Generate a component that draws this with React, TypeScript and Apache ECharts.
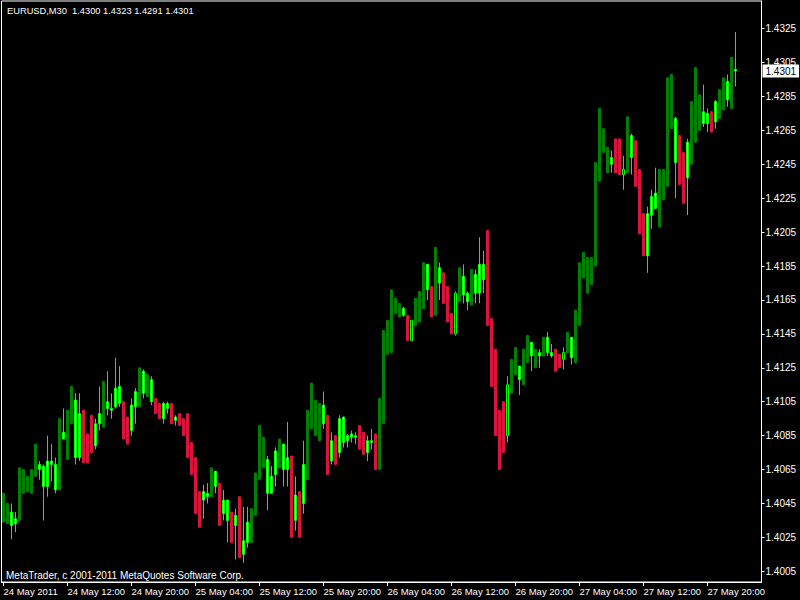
import React, { useEffect, useRef } from "react";
import * as echarts from "echarts";

// bar painting: G = green trend bar, R = red trend bar, C = plain candlestick
const paint = [
  "G","G","C","C","G","G","G","G","G","C",
  "C","C","C","C","G","C","G","G","C","C",
  "R","R","R","C","C","G","C","C","C","C",
  "R","R","C","C","G","C","G","C","R","R",
  "C","C","R","C","R","R","R","R","R","R",
  "C","C","G","C","R","C","C","R","C","R",
  "C","C","G","G","G","G","C","C","C","G",
  "C","C","R","C","R","C","G","G","G","G",
  "C","R","C","R","C","C","C","C","C","R",
  "R","C","C","R","G","G","G","G","G","G",
  "C","R","C","G","G","G","C","R","G","C",
  "R","R","R","C","G","C","C","G","C","C",
  "C","R","R","R","R","R","C","G","G","C",
  "G","G","C","G","C","G","C","C","R","R",
  "C","G","C","G","G","G","G","G","G","G",
  "G","G","C","R","R","C","G","C","R","R",
  "R","C","C","C","G","G","G","G","C","R",
  "R","C","G","G","G","C","C","R","C","G",
  "G","C","G","C",
];

const highs = [
  1.4051,1.4045,1.4045,1.4040,1.4066,1.4065,1.4061,1.4065,1.4080,1.4070,
  1.4068,1.4085,1.4080,1.4072,1.4095,1.4101,1.4100,1.4114,1.4110,1.4110,
  1.4100,1.4086,1.4097,1.4095,1.4114,1.4117,1.4123,1.4110,1.4131,1.4126,
  1.4105,1.4096,1.4107,1.4113,1.4125,1.4124,1.4121,1.4120,1.4107,1.4104,
  1.4105,1.4105,1.4104,1.4097,1.4098,1.4095,1.4098,1.4081,1.4072,1.4052,
  1.4056,1.4057,1.4066,1.4064,1.4057,1.4053,1.4047,1.4040,1.4042,1.4049,
  1.4043,1.4043,1.4042,1.4063,1.4091,1.4084,1.4073,1.4067,1.4078,1.4083,
  1.4080,1.4093,1.4073,1.4061,1.4052,1.4082,1.4100,1.4116,1.4106,1.4104,
  1.4111,1.4097,1.4087,1.4085,1.4097,1.4096,1.4086,1.4088,1.4087,1.4091,
  1.4087,1.4085,1.4089,1.4086,1.4107,1.4147,1.4153,1.4171,1.4166,1.4163,
  1.4161,1.4156,1.4153,1.4166,1.4170,1.4187,1.4186,1.4173,1.4196,1.4187,
  1.4181,1.4173,1.4157,1.4170,1.4184,1.4186,1.4170,1.4183,1.4183,1.4202,
  1.4194,1.4206,1.4154,1.4136,1.4100,1.4105,1.4120,1.4130,1.4137,1.4126,
  1.4136,1.4144,1.4140,1.4136,1.4136,1.4143,1.4146,1.4139,1.4136,1.4133,
  1.4137,1.4146,1.4143,1.4159,1.4187,1.4193,1.4190,1.4190,1.4246,1.4278,
  1.4266,1.4255,1.4253,1.4260,1.4260,1.4250,1.4273,1.4263,1.4259,1.4242,
  1.4216,1.4220,1.4230,1.4243,1.4242,1.4242,1.4296,1.4298,1.4273,1.4262,
  1.4252,1.4260,1.4282,1.4302,1.4286,1.4292,1.4278,1.4276,1.4283,1.4289,
  1.4296,1.4298,1.4308,1.4323,
];

const lows = [
  1.4034,1.4033,1.4024,1.4028,1.4035,1.4051,1.4052,1.4051,1.4061,1.4059,
  1.4035,1.4049,1.4058,1.4051,1.4053,1.4083,1.4071,1.4092,1.4068,1.4070,
  1.4069,1.4069,1.4075,1.4077,1.4088,1.4090,1.4097,1.4095,1.4101,1.4102,
  1.4083,1.4080,1.4085,1.4092,1.4102,1.4107,1.4108,1.4103,1.4098,1.4095,
  1.4092,1.4098,1.4092,1.4091,1.4091,1.4085,1.4072,1.4062,1.4039,1.4031,
  1.4036,1.4045,1.4049,1.4051,1.4032,1.4035,1.4022,1.4022,1.4012,1.4013,
  1.4010,1.4019,1.4022,1.4038,1.4059,1.4066,1.4041,1.4051,1.4055,1.4066,
  1.4055,1.4055,1.4025,1.4029,1.4025,1.4039,1.4059,1.4089,1.4085,1.4082,
  1.4089,1.4062,1.4068,1.4068,1.4072,1.4078,1.4078,1.4081,1.4080,1.4077,
  1.4074,1.4070,1.4077,1.4065,1.4065,1.4092,1.4133,1.4134,1.4157,1.4155,
  1.4155,1.4141,1.4141,1.4150,1.4152,1.4160,1.4165,1.4155,1.4156,1.4165,
  1.4163,1.4152,1.4145,1.4144,1.4164,1.4163,1.4159,1.4162,1.4163,1.4163,
  1.4169,1.4150,1.4114,1.4085,1.4065,1.4075,1.4081,1.4110,1.4121,1.4109,
  1.4115,1.4128,1.4123,1.4125,1.4125,1.4132,1.4132,1.4131,1.4123,1.4125,
  1.4124,1.4134,1.4127,1.4128,1.4150,1.4178,1.4169,1.4174,1.4185,1.4235,
  1.4252,1.4240,1.4240,1.4240,1.4239,1.4230,1.4240,1.4239,1.4232,1.4204,
  1.4191,1.4181,1.4207,1.4219,1.4208,1.4224,1.4232,1.4266,1.4225,1.4233,
  1.4222,1.4215,1.4245,1.4258,1.4265,1.4267,1.4264,1.4264,1.4266,1.4272,
  1.4277,1.4279,1.4278,1.4291,
];

const opens = [
  null,null,1.4032,1.4033,null,null,null,null,null,1.4065,
  1.4055,1.4055,1.4068,1.4053,null,1.4083,null,null,1.4072,1.4072,
  null,null,null,1.4079,1.4092,null,1.4101,1.4100,1.4102,1.4104,
  null,null,1.4088,1.4102,null,1.4110,null,1.4105,null,null,
  1.4095,1.4101,null,1.4094,null,null,null,null,null,null,
  1.4047,1.4049,null,1.4055,null,1.4039,1.4035,null,1.4032,null,
  1.4015,1.4022,null,null,null,null,1.4051,1.4051,1.4062,null,
  1.4065,1.4065,null,1.4035,null,1.4045,null,null,null,null,
  1.4092,null,1.4070,null,1.4075,1.4081,1.4082,1.4084,1.4084,null,
  null,1.4075,1.4081,null,null,null,null,null,null,null,
  1.4156,null,1.4153,null,null,null,1.4171,null,null,1.4175,
  null,null,null,1.4169,null,1.4168,1.4164,null,1.4169,1.4169,
  1.4177,null,null,null,null,null,1.4115,null,null,1.4118,
  null,null,1.4132,null,1.4132,null,1.4134,1.4132,null,null,
  1.4134,null,1.4131,null,null,null,null,null,null,null,
  null,null,1.4245,null,null,1.4242,null,1.4249,null,null,
  null,1.4191,1.4215,1.4219,null,null,null,null,1.4246,null,
  null,1.4237,null,null,null,1.4269,1.4269,null,1.4270,null,
  null,1.4283,null,1.4300,
];

const closes = [
  null,null,1.4040,1.4036,null,null,null,null,null,1.4068,
  1.4067,1.4070,1.4070,1.4068,null,1.4087,null,null,1.4106,1.4098,
  null,null,null,1.4092,1.4098,null,1.4105,1.4101,1.4113,1.4114,
  null,null,1.4103,1.4111,null,1.4123,null,1.4118,null,null,
  1.4104,1.4104,null,1.4096,null,null,null,null,null,null,
  1.4052,1.4051,null,1.4064,null,1.4047,1.4047,null,1.4038,null,
  1.4023,1.4034,null,null,null,null,1.4071,1.4061,1.4076,null,
  1.4080,1.4072,null,1.4050,null,1.4068,null,null,null,null,
  1.4103,null,1.4082,null,1.4095,1.4096,1.4085,1.4086,1.4085,null,
  null,1.4082,1.4082,null,null,null,null,null,null,null,
  1.4160,null,1.4141,null,null,null,1.4186,null,null,1.4184,
  null,null,null,1.4145,null,1.4179,1.4169,null,1.4180,1.4186,
  1.4186,null,null,null,null,null,1.4085,null,null,1.4126,
  null,null,1.4140,null,1.4134,null,1.4143,1.4134,null,null,
  1.4130,null,1.4143,null,null,null,null,null,null,null,
  null,null,1.4249,null,null,1.4239,null,1.4262,null,null,
  null,1.4216,1.4226,1.4228,null,null,null,null,1.4272,null,
  null,1.4258,null,null,null,1.4276,1.4275,null,1.4282,null,
  null,1.4294,null,1.4301,
];

const tickLabels = [
  "24 May 2011", "24 May 12:00", "24 May 20:00", "25 May 04:00",
  "25 May 12:00", "25 May 20:00", "26 May 04:00", "26 May 12:00",
  "26 May 20:00", "27 May 04:00", "27 May 12:00", "27 May 20:00",
];

const priceTicks = [
  1.4005, 1.4025, 1.4045, 1.4065, 1.4085, 1.4105, 1.4125, 1.4145, 1.4165,
  1.4185, 1.4205, 1.4225, 1.4245, 1.4265, 1.4285, 1.4305, 1.4325,
];

const titleText = "EURUSD,M30  1.4300 1.4323 1.4291 1.4301";
const copyrightText = "MetaTrader, c 2001-2011 MetaQuotes Software Corp.";
const lastPrice = 1.4301;

const GREEN = "#008000";
const RED = "#DC143C";
const LIME = "#00FF00";
const FONT = "Liberation Sans";
const AXIS_SLOTS = 190;

export default function App() {
  const ref = useRef<HTMLDivElement>(null);

  useEffect(() => {
    if (!ref.current) return;
    const chart = echarts.init(ref.current, null, { renderer: "svg" });

    const months = ["Jan","Feb","Mar","Apr","May","Jun","Jul","Aug","Sep","Oct","Nov","Dec"];
    const start = Date.UTC(2011, 4, 24, 4, 0);
    const categories = Array.from({ length: AXIS_SLOTS }, (_, i) => {
      const d = new Date(start + i * 30 * 60000);
      const hh = String(d.getUTCHours()).padStart(2, "0");
      const mm = String(d.getUTCMinutes()).padStart(2, "0");
      return `${d.getUTCDate()} ${months[d.getUTCMonth()]} ${hh}:${mm}`;
    });

    const data = highs.map((h, i) => {
      const p = paint[i];
      if (p === "G" || p === "R") {
        const col = p === "G" ? GREEN : RED;
        return {
          value: [lows[i], h, lows[i], h],
          itemStyle: { color: col, color0: col, borderColor: col, borderColor0: col, borderColorDoji: col },
        };
      }
      return { value: [opens[i], closes[i], lows[i], h] };
    });

    const isTick = (i: number) => i % 16 === 0;

    chart.setOption({
      animation: false,
      backgroundColor: "#000000",
      grid: {
        left: 1.5,
        top: 1,
        width: 760,
        height: 581,
        show: true,
        borderColor: "#ffffff",
        borderWidth: 1,
        backgroundColor: "transparent",
      },
      xAxis: {
        type: "category",
        data: categories,
        boundaryGap: true,
        axisLine: { show: true, lineStyle: { color: "#ffffff" } },
        axisTick: {
          show: true,
          alignWithLabel: true,
          interval: (i: number) => isTick(i),
          length: 4,
          lineStyle: { color: "#ffffff" },
        },
        axisLabel: {
          interval: (i: number) => isTick(i),
          formatter: (_v: string, i: number) => tickLabels[i / 16] ?? "",
          align: "left",
          color: "#ffffff",
          fontSize: 9.5,
          fontFamily: FONT,
          margin: 4,
        },
        splitLine: { show: false },
      },
      yAxis: {
        type: "value",
        position: "right",
        min: 1.39987,
        max: 1.43413,
        splitLine: { show: false },
        axisLine: { show: true, lineStyle: { color: "#ffffff" } },
        axisTick: {
          show: true,
          length: 3,
          lineStyle: { color: "#ffffff" },
          customValues: priceTicks,
        },
        axisLabel: {
          color: "#ffffff",
          fontSize: 10,
          fontFamily: FONT,
          margin: 4,
          customValues: priceTicks,
          formatter: (v: number) => v.toFixed(4),
        },
      },
      series: [
        {
          type: "candlestick",
          data,
          barWidth: 2,
          itemStyle: {
            color: "#ffffff",
            color0: "#000000",
            borderColor: LIME,
            borderColor0: LIME,
            borderColorDoji: LIME,
            borderWidth: 1,
          },
          markLine: {
            silent: true,
            symbol: ["none", "none"],
            data: [{ yAxis: lastPrice }],
            lineStyle: { width: 0, color: "rgba(0,0,0,0)" },
            label: {
              show: true,
              position: "end",
              distance: 1,
              formatter: lastPrice.toFixed(4),
              color: "#000000",
              backgroundColor: "#ffffff",
              padding: [2, 3, 1, 3],
              fontSize: 10,
              fontFamily: FONT,
            },
          },
        },
      ],
      graphic: [
        {
          type: "text",
          left: 7,
          top: 6,
          z: 100,
          style: { text: titleText, fill: "#ffffff", font: `9.3px "${FONT}"` },
        },
        {
          type: "text",
          left: 6,
          top: 570,
          z: 100,
          style: { text: copyrightText, fill: "#ffffff", font: `10px "${FONT}"` },
        },
      ],
    });

    return () => chart.dispose();
  }, []);

  return (
    <div
      ref={ref}
      style={{ position: "fixed", left: 0, top: 0, width: 800, height: 600, background: "#000" }}
    />
  );
}
